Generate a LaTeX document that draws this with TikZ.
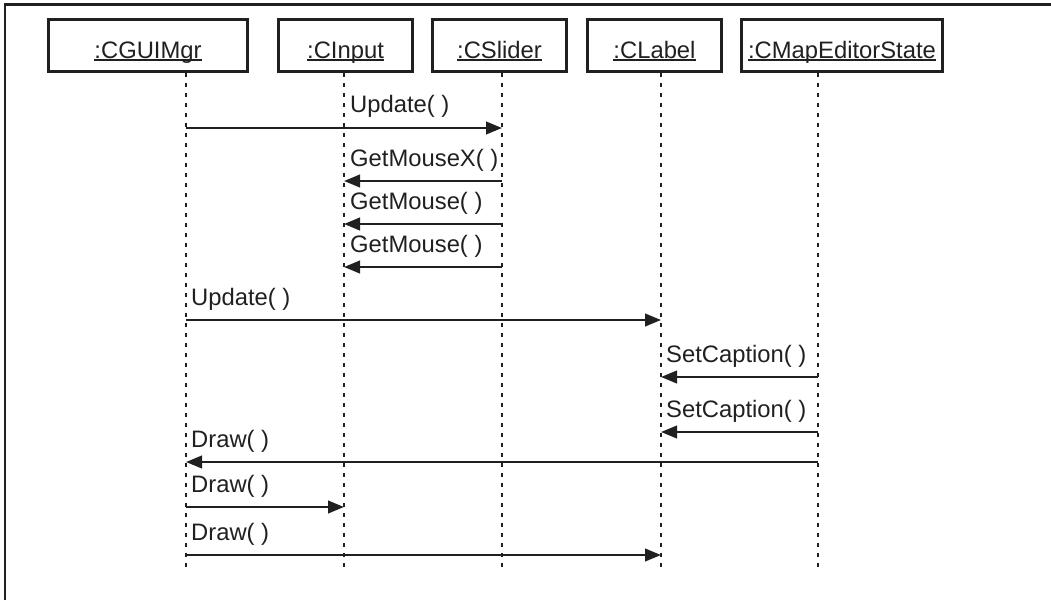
\documentclass[tikz,border=0pt]{standalone}
\usepackage{fontspec}
\setmainfont{Liberation Sans}
\usetikzlibrary{arrows.meta}
\definecolor{ink}{rgb}{0.13,0.12,0.12}
\newcommand\ulname[1]{\setbox0\hbox{#1}\rlap{\rule[-2.9pt]{\wd0}{2pt}}\box0}
\begin{document}
\begin{tikzpicture}[x=1pt,y=-1pt,
  font=\fontsize{23.8}{28}\selectfont,
  obj/.style={draw=ink, line width=2.6pt, inner sep=0pt, text height=30pt, text depth=4pt, minimum height=52pt, anchor=base, text=ink},
  life/.style={draw=ink, line width=2.6pt, dash pattern=on 4.5pt off 5.5pt},
  msg/.style={draw=ink, line width=2.5pt, -{Triangle[length=16pt,width=12.5pt]}},
  lbl/.style={anchor=base west, inner sep=0pt, text=ink}]
\useasboundingbox (0,0) rectangle (1051,600);
\draw[ink, line width=2.4pt] (5,600) -- (5,4.3) -- (1051,4.3);
% objects
\node[obj, minimum width=199pt] (gui) at (148,58.5) {\ulname{:CGUIMgr}};
\node[obj, minimum width=134pt] (inp) at (345.5,58.5) {\ulname{:CInput}};
\node[obj, minimum width=134pt] (sli) at (499.5,58.5) {\ulname{:CSlider}};
\node[obj, minimum width=134pt] (lab) at (654.5,58.5) {\ulname{:CLabel}};
\node[obj, minimum width=201pt] (map) at (842,58.5) {\ulname{:CMapEditorState}};
% lifelines
\coordinate (guiT) at (gui.south -| 186,0);  \coordinate (guiB) at (186,567);
\coordinate (inpT) at (inp.south -| 344,0);  \coordinate (inpB) at (344,567);
\coordinate (sliT) at (sli.south -| 502,0);  \coordinate (sliB) at (502,567);
\coordinate (labT) at (lab.south -| 661,0);  \coordinate (labB) at (661,567);
\coordinate (mapT) at (map.south -| 818,0);  \coordinate (mapB) at (818,567);
\draw[life] (guiT) -- (guiB);
\draw[life] (inpT) -- (inpB);
\draw[life] (sliT) -- (sliB);
\draw[life] (labT) -- (labB);
\draw[life] (mapT) -- (mapB);
% messages
\draw[msg] (guiT |- 0,128) -- (sliT |- 0,128);
\node[lbl] (m1) at (350,112.5) {Update( )};
\draw[msg] (sliT |- 0,181) -- (inpT |- 0,181);
\node[lbl] (m2) at (350,166) {GetMouseX( )};
\draw[msg] (sliT |- 0,224) -- (inpT |- 0,224);
\node[lbl] (m3) at (350,209) {GetMouse( )};
\draw[msg] (sliT |- 0,267) -- (inpT |- 0,267);
\node[lbl] (m4) at (350,252) {GetMouse( )};
\draw[msg] (guiT |- 0,320) -- (labT |- 0,320);
\node[lbl] (m5) at (191,305) {Update( )};
\draw[msg] (mapT |- 0,377) -- (labT |- 0,377);
\node[lbl] (m6) at (666,362.5) {SetCaption( )};
\draw[msg] (mapT |- 0,432) -- (labT |- 0,432);
\node[lbl] (m7) at (666,417.5) {SetCaption( )};
\draw[msg] (mapT |- 0,462) -- (guiT |- 0,462);
\node[lbl] (m8) at (191,447) {Draw( )};
\draw[msg] (guiT |- 0,507) -- (inpT |- 0,507);
\node[lbl] (m9) at (191,492) {Draw( )};
\draw[msg] (guiT |- 0,555) -- (labT |- 0,555);
\node[lbl] (m10) at (191,540) {Draw( )};
\end{tikzpicture}
\end{document}
